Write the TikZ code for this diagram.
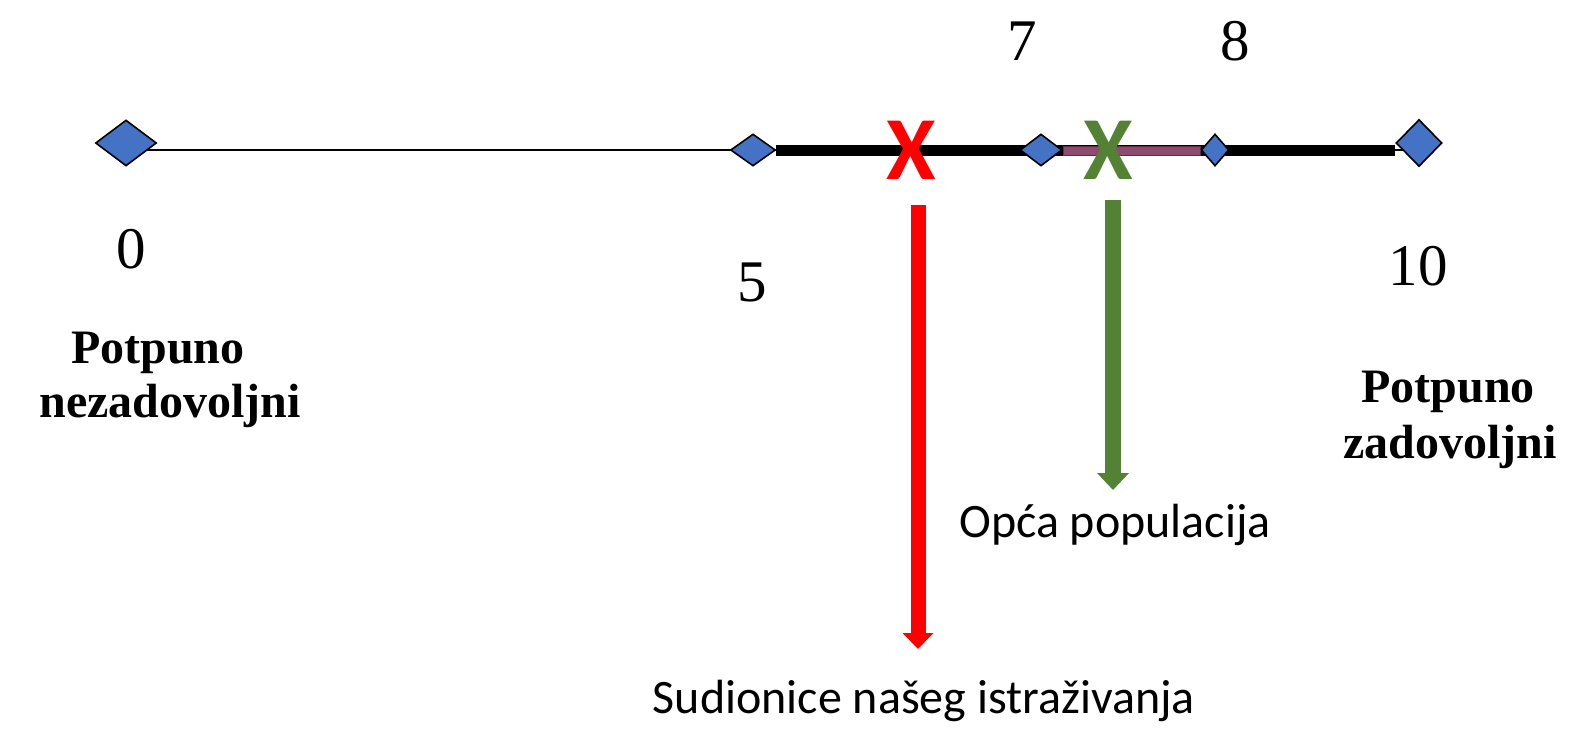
\documentclass[tikz,border=0pt]{standalone}
\usepackage{fontspec}
\setmainfont{Liberation Serif}
\newfontfamily\sansf{Carlito}
\usetikzlibrary{shapes.geometric,arrows.meta,backgrounds}
\definecolor{dblue}{HTML}{4472C4}
\definecolor{dgreen}{HTML}{548235}
\definecolor{mauve}{HTML}{8E4B6E}
\definecolor{mauvedark}{HTML}{5A2E45}
\begin{document}
\begin{tikzpicture}[x=1pt,y=-1pt,
  dmd/.style={diamond,draw=black,line width=1.6pt,fill=dblue,inner sep=0pt},
  digit/.style={anchor=base,inner sep=0pt,font=\fontsize{59}{70}\selectfont},
  blab/.style={anchor=base,inner sep=0pt,font=\bfseries\fontsize{48}{58}\selectfont},
  slab/.style={anchor=base,inner sep=0pt,font=\sansf\fontsize{48}{58}\selectfont},
  xmark/.style={anchor=base,inner sep=0pt,font=\sansf\bfseries\fontsize{90}{100}\selectfont},
  bigarrow/.style={line width=15pt}]
\useasboundingbox (0,0) rectangle (1570,728);
% diamonds
\node[dmd,minimum width=61pt,minimum height=46pt] (d0) at (126,143) {};
\node[dmd,minimum width=45pt,minimum height=32pt] (d5) at (753,150) {};
\node[dmd,minimum width=42pt,minimum height=32pt] (d7) at (1041,150) {};
\node[dmd,minimum width=28pt,minimum height=32pt] (d8) at (1215,150) {};
\node[dmd,minimum width=46pt,minimum height=47pt] (d10) at (1419,143) {};
\coordinate (ls) at (140,150);
\coordinate (le) at (1410,150);
\coordinate (te) at (1395,150);
\begin{scope}[on background layer]
  \draw[line width=1.5pt] (ls) -- (le);
  \draw[line width=11pt] (d5.east) -- (te);
\end{scope}
% purple bar
\node[draw=mauvedark,line width=1pt,fill=mauve,minimum width=137pt,minimum height=9pt,inner sep=0pt] (pb) at (1131.5,150.5) {};
% X marks
\node[xmark,text=red] (xr) at (911,179) {X};
\node[xmark,text=dgreen] (xg) at (1108,179) {X};
% digits
\node[digit] (n0) at (131,268) {0};
\node[digit] (n5) at (752,301) {5};
\node[digit] (n7) at (1022,60) {7};
\node[digit] (n8) at (1235,60) {8};
\node[digit] (n10) at (1418,285) {10};
% bold labels
\node[blab] (l1a) at (158,363) {Potpuno};
\node[blab] (l1b) at (170,417) {nezadovoljni};
\node[blab] (l2a) at (1448,402) {Potpuno};
\node[blab] (l2b) at (1450,458) {zadovoljni};
% sans labels
\node[slab] (op) at (1115,537) {Opća populacija};
\node[slab] (su) at (924,713) {Sudionice našeg istraživanja};
% arrows
\coordinate (ra) at (918,205);
\coordinate (rb) at (918,649);
\coordinate (ga) at (1113,200);
\coordinate (gb) at (1113,490);
\draw[bigarrow,red,-{Triangle[width=30pt,length=16pt]}] (ra) -- (rb);
\draw[bigarrow,line width=16pt,dgreen,-{Triangle[width=31pt,length=17pt]}] (ga) -- (gb);
\end{tikzpicture}
\end{document}
